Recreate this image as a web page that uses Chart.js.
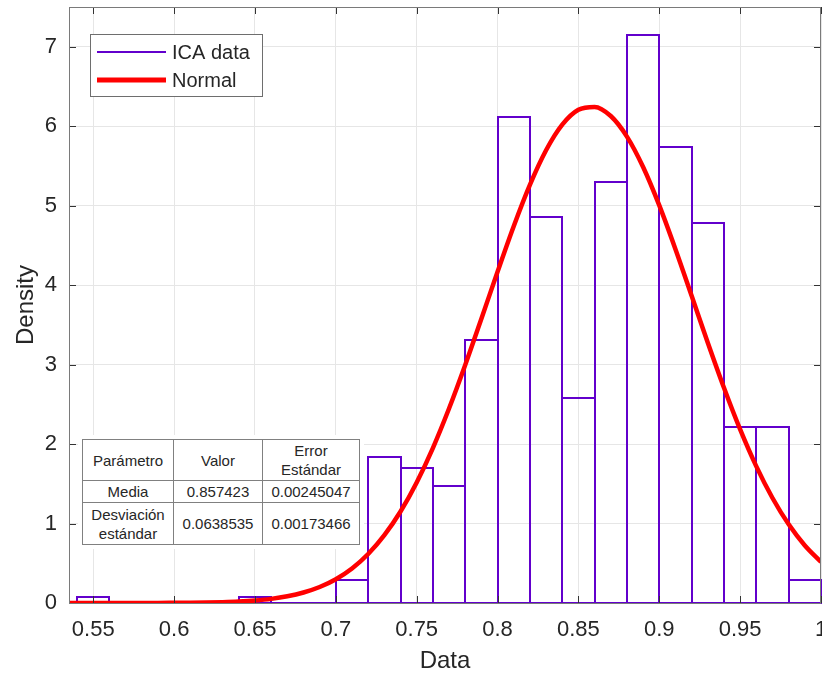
<!DOCTYPE html>
<html>
<head>
<meta charset="utf-8">
<script src="https://cdn.jsdelivr.net/npm/chart.js@4.4.1/dist/chart.umd.min.js"></script>
<style>
    body { margin: 0; background: #fff; }
    #wrap { position: relative; width: 822px; height: 677px; }
    #stats {
        position: absolute; left: 78px; top: 435px;
        padding: 4px; background: #fff;
    }
    #stats table {
        border-collapse: collapse;
        font-family: "Liberation Sans", Arial, sans-serif;
        font-size: 15px; color: #262626; text-align: center;
        background: #fff;
    }
    #stats td { border: 1px solid #808080; padding: 0; line-height: 19px; }
</style>
</head>
<body>
<div id="wrap">
    <canvas id="histChart" width="822" height="677"></canvas>
    <div id="stats">
        <table>
            <tr style="height:41px"><td style="width:90px">Parámetro</td><td style="width:88px">Valor</td><td style="width:96px">Error<br>Estándar</td></tr>
            <tr style="height:22px"><td>Media</td><td>0.857423</td><td>0.00245047</td></tr>
            <tr style="height:42px"><td>Desviación<br>estándar</td><td>0.0638535</td><td>0.00173466</td></tr>
        </table>
    </div>
</div>
<script>
// histogram bins (width 0.02, from 0.54 to 1.00)
var binCenters = [0.55, 0.57, 0.59, 0.61, 0.63, 0.65, 0.67, 0.69, 0.71, 0.73, 0.75, 0.77,
                  0.79, 0.81, 0.83, 0.85, 0.87, 0.89, 0.91, 0.93, 0.95, 0.97, 0.99];
var density = [0.074, 0, 0, 0, 0, 0.074, 0, 0, 0.295, 1.841, 1.694, 1.473,
               3.314, 6.112, 4.860, 2.577, 5.302, 7.143, 5.744, 4.786, 2.209, 2.209, 0.295];

// fitted normal curve
var curveX = [0.535, 0.54, 0.55, 0.56, 0.57, 0.58, 0.59, 0.60, 0.61, 0.62, 0.63, 0.64, 0.65,
              0.66, 0.67, 0.68, 0.69, 0.70, 0.71, 0.72, 0.73, 0.74, 0.75, 0.76, 0.77, 0.78,
              0.79, 0.80, 0.81, 0.82, 0.83, 0.84, 0.85, 0.86, 0.87, 0.88, 0.89, 0.90, 0.91,
              0.92, 0.93, 0.94, 0.95, 0.96, 0.97, 0.98, 0.99, 1.00];
var curveY = [0.0000, 0.0000, 0.0001, 0.0001, 0.0002, 0.0005, 0.001, 0.002, 0.003, 0.006, 0.011, 0.019, 0.032,
              0.052, 0.084, 0.132, 0.201, 0.299, 0.434, 0.616, 0.853, 1.151, 1.517, 1.950, 2.447, 2.995,
              3.577, 4.169, 4.742, 5.262, 5.697, 6.019, 6.206, 6.243, 6.128, 5.869, 5.486, 5.003, 4.452,
              3.866, 3.275, 2.708, 2.184, 1.719, 1.321, 0.990, 0.724, 0.517];

var xTicks = [0.55, 0.6, 0.65, 0.7, 0.75, 0.8, 0.85, 0.9, 0.95, 1];
var yTicks = [0, 1, 2, 3, 4, 5, 6, 7];

var FONT = '"Liberation Sans", Arial, sans-serif';
var TXT = '#262626';
var PURPLE = '#6200cc';
var RED = '#ff0000';

// histogram outlines: stroke the bar elements' rectangles centred on their edges
var barOutline = {
    id: 'barOutline',
    afterDatasetDraw: function (chart, args) {
        if (args.index !== 0) return;
        var ctx = chart.ctx;
        ctx.save();
        ctx.strokeStyle = PURPLE;
        ctx.lineWidth = 2;
        args.meta.data.forEach(function (el) {
            var left = Math.round(el.x - el.width / 2);
            var right = Math.round(el.x + el.width / 2);
            var top = Math.round(el.y);
            var bottom = Math.round(el.base);
            ctx.strokeRect(left, top, right - left, bottom - top);
        });
        ctx.restore();
    }
};

// MATLAB style box with inward ticks on all sides, plus the legend
var boxPlugin = {
    id: 'boxPlugin',
    afterDraw: function (chart) {
        var ctx = chart.ctx, a = chart.chartArea;
        var xs = chart.scales.x, ys = chart.scales.y;
        ctx.save();
        ctx.strokeStyle = '#333';
        ctx.lineWidth = 1;
        ctx.beginPath();
        xTicks.forEach(function (v) {
            var px = Math.round(xs.getPixelForValue(v)) + 0.5;
            ctx.moveTo(px, a.bottom); ctx.lineTo(px, a.bottom - 7);
            ctx.moveTo(px, a.top); ctx.lineTo(px, a.top + 7);
        });
        yTicks.forEach(function (v) {
            var py = Math.round(ys.getPixelForValue(v)) + 0.5;
            ctx.moveTo(a.left, py); ctx.lineTo(a.left + 7, py);
            ctx.moveTo(a.right, py); ctx.lineTo(a.right - 7, py);
        });
        ctx.stroke();
        ctx.strokeStyle = '#7a7a7a';
        ctx.strokeRect(Math.round(a.left) + 0.5, Math.round(a.top) + 0.5,
            Math.round(a.right - a.left) - 1, Math.round(a.bottom - a.top));

        // legend
        var lx = a.left + 21, ly = a.top + 27, lw = 172, lh = 62;
        ctx.fillStyle = '#fff';
        ctx.fillRect(lx, ly, lw, lh);
        ctx.strokeStyle = '#6e6e6e';
        ctx.strokeRect(lx + 0.5, ly + 0.5, lw, lh);
        var items = chart.data.datasets;
        items.forEach(function (ds, i) {
            var y = ly + 18 + i * 28;
            ctx.beginPath();
            ctx.strokeStyle = ds.legendColor;
            ctx.lineWidth = ds.legendWidth;
            ctx.moveTo(lx + 7, y); ctx.lineTo(lx + 76, y);
            ctx.stroke();
            ctx.fillStyle = TXT;
            ctx.font = '20px ' + FONT;
            ctx.textBaseline = 'middle';
            ctx.fillText(ds.label, lx + 82, y + 1);
        });
        ctx.restore();
    }
};

var barData = binCenters.map(function (c, i) { return { x: c, y: density[i] }; });
var lineData = curveX.map(function (x, i) { return { x: x, y: curveY[i] }; });

new Chart(document.getElementById('histChart').getContext('2d'), {
    type: 'bar',
    data: {
        datasets: [
            {
                label: 'ICA data',
                data: barData,
                backgroundColor: 'rgba(0,0,0,0)',
                borderWidth: 0,
                barPercentage: 1,
                categoryPercentage: 1,
                legendColor: PURPLE,
                legendWidth: 2,
                order: 1
            },
            {
                type: 'line',
                label: 'Normal',
                data: lineData,
                borderColor: RED,
                borderWidth: 4.5,
                pointRadius: 0,
                cubicInterpolationMode: 'monotone',
                fill: false,
                legendColor: RED,
                legendWidth: 5,
                order: 0
            }
        ]
    },
    options: {
        responsive: false,
        animation: false,
        devicePixelRatio: 1,
        layout: { padding: { top: 7, right: 1, left: 0, bottom: 0 } },
        plugins: {
            legend: { display: false },
            tooltip: { enabled: false }
        },
        scales: {
            x: {
                type: 'linear',
                min: 0.535,
                max: 1.0,
                offset: false,
                afterBuildTicks: function (s) { s.ticks = xTicks.map(function (v) { return { value: v }; }); },
                afterFit: function (s) { s.height = 74; s.paddingLeft = 0; s.paddingRight = 0; },
                grid: { color: '#e6e6e6', drawTicks: false, offset: false },
                border: { display: false },
                ticks: {
                    padding: 14,
                    maxRotation: 0,
                    autoSkip: false,
                    color: TXT,
                    font: { family: FONT, size: 22 },
                    callback: function (v) { return String(+v.toFixed(2)); }
                },
                title: {
                    display: true, text: 'Data', color: TXT,
                    font: { family: FONT, size: 24 },
                    padding: { top: 0, bottom: 1 }
                }
            },
            y: {
                min: 0,
                max: 7.5,
                afterBuildTicks: function (s) { s.ticks = yTicks.map(function (v) { return { value: v }; }); },
                afterFit: function (s) { s.width = 69; s.paddingTop = 0; s.paddingBottom = 0; },
                grid: { color: '#e6e6e6', drawTicks: false },
                border: { display: false },
                ticks: {
                    padding: 12,
                    color: TXT,
                    font: { family: FONT, size: 22 }
                },
                title: {
                    display: true, text: 'Density', color: TXT,
                    font: { family: FONT, size: 24 },
                    padding: { top: 12, bottom: 0 }
                }
            }
        }
    },
    plugins: [barOutline, boxPlugin]
});
</script>
</body>
</html>
